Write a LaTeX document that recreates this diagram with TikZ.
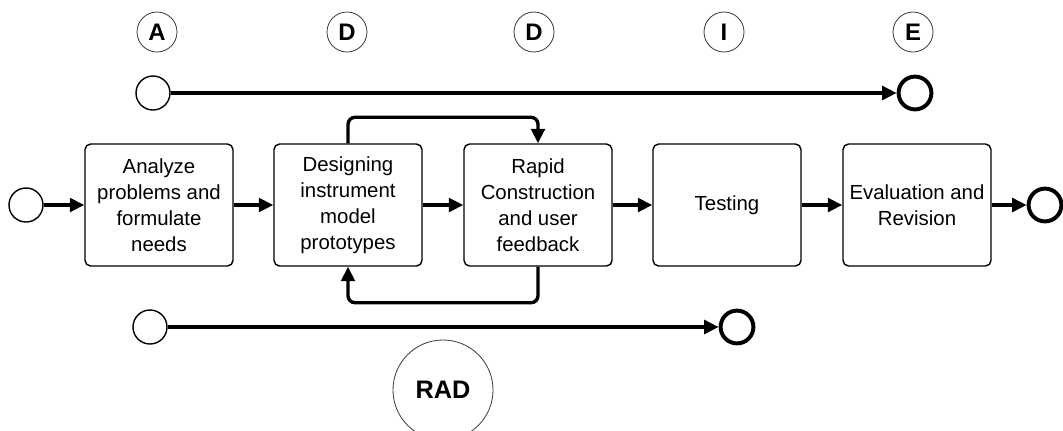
\documentclass[tikz,border=0pt]{standalone}
\usepackage{fontspec}
\setmainfont{Liberation Sans}
\usetikzlibrary{arrows.meta,positioning}

\begin{document}
\begin{tikzpicture}[
  x=0.025cm,y=-0.025cm,
  task/.style={draw,rounded corners=4pt,line width=1pt,minimum width=3.7cm,
    minimum height=3.05cm,align=center,inner sep=2pt,
    font=\fontsize{14.5}{18.5}\selectfont},
  phase/.style={circle,draw=black!75,line width=0.6pt,minimum size=1cm,inner sep=0pt,
    font=\fontsize{17}{17}\selectfont\bfseries},
  start/.style={circle,draw,line width=1pt,minimum size=0.85cm,inner sep=0pt},
  stop/.style={circle,draw,line width=2.8pt,minimum size=0.82cm,inner sep=0pt},
  arr/.style={-{Triangle[length=3.6mm,width=3.4mm]},line width=2.4pt},
  flow/.style={-{Triangle[length=3.6mm,width=3.4mm]},line width=2.4pt,rounded corners=5pt}
]
\useasboundingbox (0,0) rectangle (1063,430);

% -------------------------
% Phase letters
% -------------------------
\node[phase] (pA) at (157,32) {A};
\node[phase] (pD1) at (347,32) {D};
\node[phase] (pD2) at (534,32) {D};
\node[phase] (pI) at (724,32) {I};
\node[phase] (pE) at (913,32) {E};

% -------------------------
% Top track
% -------------------------
\node[start] (t0) at (153,93) {};
\node[stop] (t1) at (915,93) {};
\draw[arr] (t0) -- (t1);

% -------------------------
% Main process
% -------------------------
\node[start] (s0) at (26,205) {};
\node[task] (b1) at (159,205) {Analyze\\problems and\\formulate\\needs};
\node[task] (b2) at (348,205) {Designing\\instrument\\model\\prototypes};
\node[task] (b3) at (538,205) {Rapid\\Construction\\and user\\feedback};
\node[task] (b4) at (727,205) {Testing};
\node[task] (b5) at (917,205) {Evaluation and\\Revision};
\node[stop] (s1) at (1045,205) {};

\draw[arr] (s0) -- (b1);
\draw[arr] (b1) -- (b2);
\draw[arr] (b2) -- (b3);
\draw[arr] (b3) -- (b4);
\draw[arr] (b4) -- (b5);
\draw[arr] (b5) -- (s1);

% prototype loop
\draw[flow] (b2.north) -- ++(0,-26) -| (b3.north);
\draw[flow] (b3.south) -- ++(0,36) -| (b2.south);

% -------------------------
% Bottom track
% -------------------------
\node[start] (r0) at (150,327) {};
\node[stop] (r1) at (737,327) {};
\draw[arr] (r0) -- (r1);

\node[circle,draw=black!75,line width=0.6pt,minimum size=2.5cm,inner sep=0pt,
  font=\fontsize{18}{18}\selectfont\bfseries] (rad) at (443,390) {RAD};

\end{tikzpicture}
\end{document}
